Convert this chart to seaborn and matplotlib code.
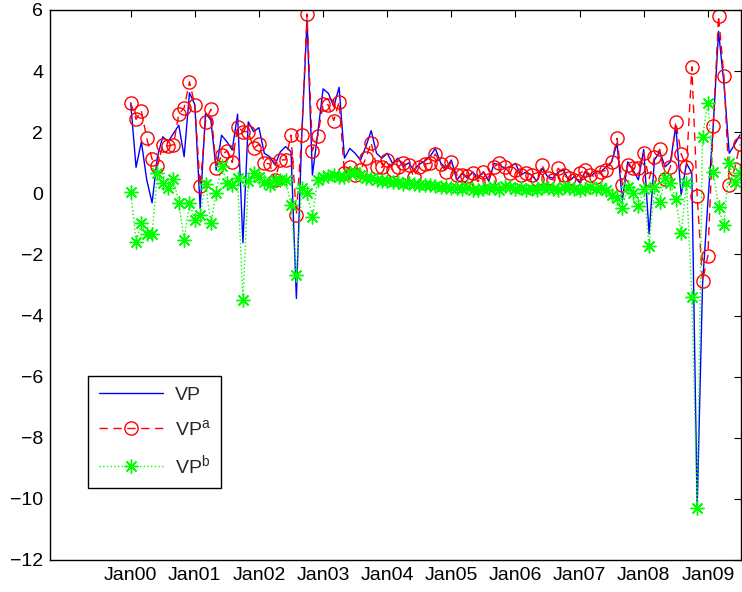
import numpy as np
import pandas as pd
import matplotlib
matplotlib.use("Agg")
import matplotlib.pyplot as plt
import seaborn as sns

# Monthly observations, Jan 2000 .. Jul 2009
vp = [2.96, 0.85, 1.69, 0.44, -0.31, 1.2, 1.85, 1.69, 1.96, 2.23, 1.2, 3.29,
      2.9, -0.49, 2.62, 2.4, 0.76, 1.9, 1.69, 1.42, 2.59, -1.62, 2.34, 2.02,
      2.15, 1.31, 1.2, 0.93, 1.36, 1.53, 1.36, -3.44, 1.85, 5.67, 0.6, 1.96,
      3.42, 3.27, 2.84, 3.47, 1.15, 1.47, 1.31, 1.09, 1.53, 2.05, 1.31, 1.15,
      1.31, 0.98, 1.15, 0.87, 1.0, 0.75, 0.95, 1.05, 1.2, 1.47, 1.0, 0.8,
      1.09, 0.44, 0.65, 0.5, 0.7, 0.5, 0.7, 0.4, 0.98, 0.93, 0.82, 0.87,
      0.98, 0.6, 0.7, 0.6, 0.4, 0.82, 0.55, 0.5, 0.7, 0.76, 0.4, 0.55,
      0.35, 0.7, 0.55, 0.7, 0.71, 0.87, 1.03, 1.64, -0.22, 1.03, 0.76, 0.44,
      1.44, -1.33, 1.09, 1.36, 0.87, 1.03, 2.2, -0.06, 0.98, 0.67, -10.3, -3.0,
      -0.3, 2.2, 5.3, 3.6, 1.31, 1.6, 1.91]

vpa = [2.96, 2.42, 2.70, 1.80, 1.12, 0.89, 1.59, 1.55, 1.59, 2.59, 2.80, 3.65,
       2.89, 0.24, 2.34, 2.75, 0.82, 1.25, 1.39, 1.01, 2.18, 2.02, 2.02, 1.47,
       1.61, 1.0, 0.96, 0.44, 1.09, 1.1, 1.91, -0.71, 1.91, 5.87, 1.39, 1.87,
       2.92, 2.89, 2.38, 3.0, 0.65, 0.87, 0.6, 0.75, 1.15, 1.66, 0.87, 0.85,
       1.09, 0.76, 0.87, 0.98, 0.93, 0.54, 0.87, 0.96, 0.98, 1.29, 0.96, 0.71,
       1.03, 0.6, 0.6, 0.57, 0.65, 0.38, 0.71, 0.44, 0.87, 0.98, 0.85, 0.65,
       0.76, 0.6, 0.67, 0.6, 0.46, 0.93, 0.49, 0.44, 0.82, 0.6, 0.49, 0.44,
       0.65, 0.76, 0.6, 0.54, 0.71, 0.75, 1.03, 1.80, 0.27, 0.93, 0.82, 0.82,
       1.33, 0.46, 1.18, 1.44, 0.46, 0.87, 2.34, 1.29, 0.87, 4.14, -0.09, -2.86,
       -2.05, 2.21, 5.81, 3.85, 0.27, 0.8, 1.6]

vpb = [0.05, -1.58, -0.98, -1.33, -1.33, 0.65, 0.33, 0.16, 0.46, -0.31, -1.53, -0.31,
       -0.87, -0.71, 0.3, -0.98, 0.02, 0.89, 0.35, 0.27, 0.49, -3.49, 0.41, 0.65,
       0.54, 0.38, 0.27, 0.44, 0.44, 0.44, -0.38, -2.67, 0.16, 0.02, -0.79, 0.44,
       0.54, 0.58, 0.6, 0.55, 0.55, 0.68, 0.7, 0.6, 0.5, 0.5, 0.45, 0.42,
       0.4, 0.38, 0.36, 0.32, 0.33, 0.3, 0.28, 0.27, 0.26, 0.25, 0.22, 0.2,
       0.18, 0.16, 0.15, 0.2, 0.12, 0.1, 0.14, 0.18, 0.2, 0.12, 0.25, 0.22,
       0.15, 0.18, 0.12, 0.15, 0.1, 0.2, 0.18, 0.15, 0.12, 0.2, 0.17, 0.14,
       0.12, 0.15, 0.2, 0.15, 0.16, 0.11, -0.06, -0.16, -0.49, 0.2, 0.02, -0.42,
       0.13, -1.72, 0.2, -0.27, 0.49, 0.33, -0.2, -1.31, 0.35, -3.38, -10.3, 1.85,
       2.97, 0.71, -0.46, -1.04, 0.98, 0.38, 0.65]

tick_labels = ["Jan00", "Jan01", "Jan02", "Jan03", "Jan04",
               "Jan05", "Jan06", "Jan07", "Jan08", "Jan09"]
y_ticks = [-12, -10, -8, -6, -4, -2, 0, 2, 4, 6]

months = np.arange(len(vp))
df = pd.DataFrame({"m": months, "VP": vp, "VPa": vpa, "VPb": vpb})

sns.set_style("white")
plt.rcParams["font.family"] = ["Liberation Sans", "DejaVu Sans"]
plt.rcParams["mathtext.fontset"] = "custom"
plt.rcParams["mathtext.rm"] = "Liberation Sans"
plt.rcParams["mathtext.it"] = "Liberation Sans"

fig = plt.figure(figsize=(7.42, 5.92), dpi=100)
ax = fig.add_axes([50 / 742, 32 / 592, 691 / 742, 550 / 592])

sns.lineplot(data=df, x="m", y="VP", ax=ax, color=(0, 0, 1), lw=1.0,
             label="VP")
sns.lineplot(data=df, x="m", y="VPa", ax=ax, color=(1, 0, 0), lw=1.0,
             dashes=False, linestyle=(0, (6, 4)), marker="o", markersize=9.5,
             markerfacecolor="none", markeredgecolor=(1, 0, 0),
             markeredgewidth=1.0, label="VP$^{\\mathrm{a}}$")
sns.lineplot(data=df, x="m", y="VPb", ax=ax, color=(0, 1, 0), lw=1.0,
             linestyle=":", marker=(8, 2, 0), markersize=10,
             markeredgecolor=(0, 1, 0), markeredgewidth=1.0,
             label="VP$^{\\mathrm{b}}$")

ax.set_xlim(-15.1, 114.2)
ax.set_ylim(-12, 6)
ax.set_xticks(np.arange(0, 12 * len(tick_labels), 12))
ax.set_xticklabels(tick_labels)
ax.set_yticks(y_ticks)
ax.set_yticklabels([str(v).replace("-", "\u2212") for v in y_ticks])
ax.set_xlabel("")
ax.set_ylabel("")
ax.tick_params(direction="in", top=True, right=True, length=5, width=0.8,
               labelsize=14, colors="black", pad=5)
for s in ax.spines.values():
    s.set_visible(True)
    s.set_color("black")
    s.set_linewidth(1.0)

leg = ax.legend(loc="upper left", bbox_to_anchor=(0.055, 0.335),
                borderaxespad=0.0, fontsize=14, frameon=True, fancybox=False,
                borderpad=0.55, handlelength=3.3, labelspacing=0.75,
                handletextpad=0.6)
leg.get_frame().set_edgecolor("black")
leg.get_frame().set_linewidth(1.0)
leg.get_frame().set_alpha(1)

fig.savefig("out.png", dpi=100)
